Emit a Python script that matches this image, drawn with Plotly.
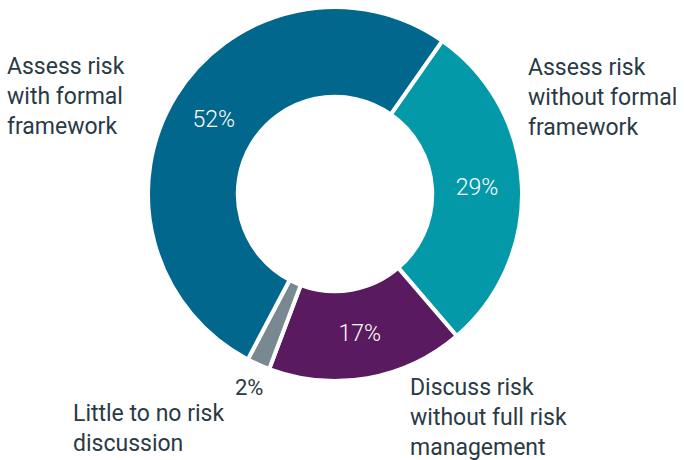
import plotly.graph_objects as go

labels = ["Assess risk<br>without formal<br>framework",
          "Discuss risk<br>without full risk<br>management",
          "Little to no risk<br>discussion",
          "Assess risk<br>with formal<br>framework"]
values = [29, 17, 2, 52]
colors = ["#0499A8", "#5A1A5F", "#7A8891", "#02678C"]

W, H = 684, 460
texts = [f"{v}%" if v > 5 else "" for v in values]

cx, cy, r = 335, 194, 187
fig = go.Figure(go.Pie(
    labels=labels, values=values, sort=False, direction="clockwise",
    rotation=35, hole=0.52,
    marker=dict(colors=colors, line=dict(color="white", width=4)),
    text=texts, textinfo="text", textposition="inside",
    insidetextorientation="horizontal",
    textfont=dict(family="Roboto", size=23, color="white", weight=300),
    domain=dict(x=[(cx - r) / W, (cx + r) / W],
                y=[max(0, (H - cy - r) / H), min(1, (H - cy + r) / H)]),
    hoverinfo="label+percent", showlegend=False,
))

# outside label positions (pixels, top-left origin)
label_pos = [(526, 97), (408, 417), (71, 428), (5, 96)]
ann = []
for lab, (px, py) in zip(labels, label_pos):
    ann.append(dict(text=lab, x=px / W, y=1 - py / H, xref="paper", yref="paper",
                    xanchor="left", yanchor="middle", align="left", showarrow=False,
                    font=dict(family="Roboto", size=23, color="#2A3A45")))
ann.append(dict(text=f"{values[2]}%", x=249 / W, y=1 - 387 / H,
                xref="paper", yref="paper", xanchor="center", yanchor="middle", showarrow=False,
                font=dict(family="Roboto", size=22, color="#2A3A45")))

fig.update_layout(width=W, height=H, margin=dict(l=0, r=0, t=0, b=0),
                  paper_bgcolor="white", plot_bgcolor="white", annotations=ann)
fig.write_html("out.html", config={"displayModeBar": False},
               post_script="document.body.style.margin='0';document.body.style.overflow='hidden';")
